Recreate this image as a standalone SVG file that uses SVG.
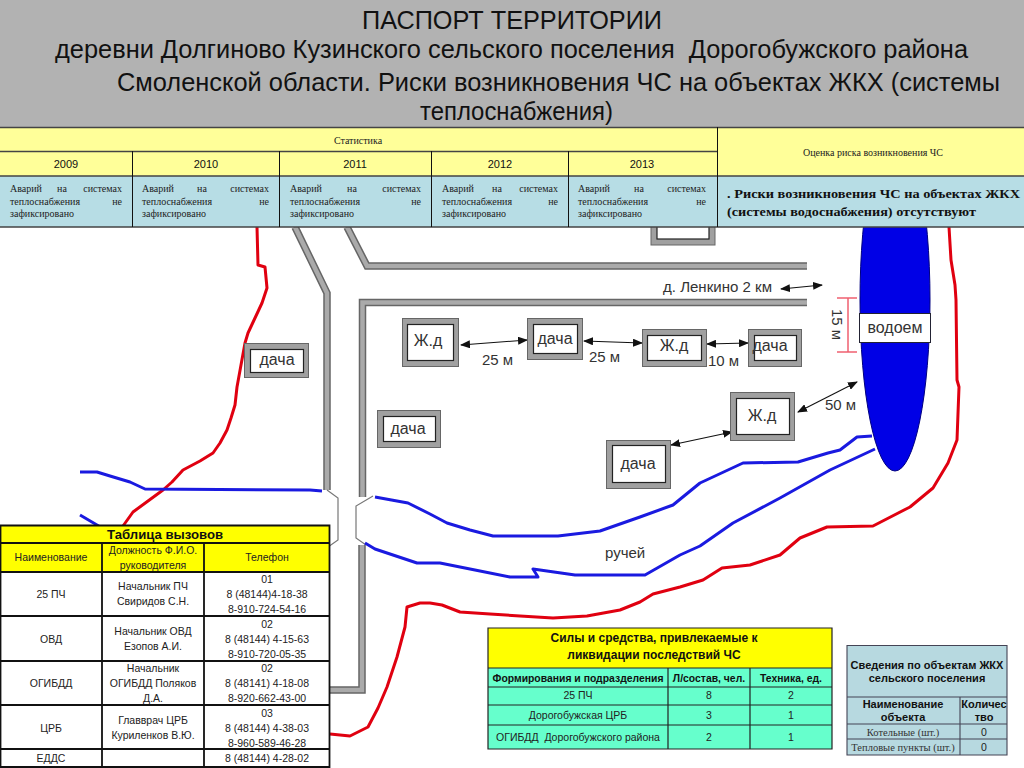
<svg xmlns="http://www.w3.org/2000/svg" width="1024" height="768" viewBox="0 0 1024 768">
<defs>
<marker id="ah" viewBox="0 0 10 8" refX="9" refY="4" markerWidth="10" markerHeight="8" markerUnits="userSpaceOnUse" orient="auto-start-reverse"><path d="M0 0L10 4L0 8Z" fill="#111"/></marker>
</defs>
<style>
text{font-family:"Liberation Sans",Arial,sans-serif;fill:#222}
.t{font-size:25.500px;fill:#111;white-space:pre}
.s{font-family:"Liberation Serif","Times New Roman",serif;font-size:10px;fill:#222}
.m{text-anchor:middle}
.e{text-anchor:end}
.y{font-size:11px;text-anchor:middle;fill:#111}
.b{fill:#a0a0a0;stroke:#666;stroke-width:1}
.i{fill:#fff;stroke:#222;stroke-width:1.2}
.n{font-size:16px;text-anchor:middle;fill:#333}
.l{font-size:15px;fill:#333}
.rd{fill:none;stroke:#666;stroke-width:7.5}
.rl{fill:none;stroke:#aaa;stroke-width:4.5}
.br{fill:none;stroke:#777;stroke-width:1.2}
.red{fill:none;stroke:#e00010;stroke-width:3;stroke-linejoin:round}
.blue{fill:none;stroke:#1a1ae0;stroke-width:3;stroke-linejoin:round}
.a{stroke:#111;stroke-width:1.1;fill:none;marker-start:url(#ah);marker-end:url(#ah)}
.g{stroke:#222;stroke-width:1.2;fill:none}
.k{stroke:#111;stroke-width:1.8;fill:none}
.c{font-size:10.500px;text-anchor:middle;fill:#222}
.f{font-size:10.500px;text-anchor:middle;fill:#222}
.h{font-size:11px;font-weight:bold;text-anchor:middle;fill:#111}
.hf{font-size:10.400px;font-weight:bold;text-anchor:middle;fill:#111}
.ht{font-size:12px;font-weight:bold;text-anchor:middle;fill:#111}
.d{font-family:"Liberation Serif",serif;font-size:10.500px;text-anchor:middle;fill:#333}
.bs{font-family:"Liberation Serif",serif;font-size:13px;font-weight:bold;fill:#111}
</style>
<rect width="1024" height="768" fill="#fff"/>

<g id="roads">
<path class="rd" d="M295,227L327,293V490"/><path class="rl" d="M295,227L327,293V490"/>
<path class="rd" d="M347,227L367,266H807"/><path class="rl" d="M347,227L367,266H807"/>
<path class="rd" d="M807,302.5H362.5V497"/><path class="rl" d="M807,302.5H362.5V497"/>
<path class="rd" d="M362,545V690H320"/><path class="rl" d="M362,545V690H320"/>
<path class="br" d="M327,490L338,498V540L328,547"/>
<path class="br" d="M373,496L356,506V538L366,545"/>
</g>

<g id="connectors">
<path class="red" d="M257,227L258,265L265,267L267,288L262,303L255,318L248,333L245,343L241,365L237,387L235,405L231,418L227,430L220,443L213,453L200,461L183,470L172,482L163,490L148,501L133,512L123,526"/>
<path class="red" d="M330,734L350,736L368,727L378,708L387,687L397,657L405,627L407,607L420,603L430,603L442,605L460,612L490,614L520,616L553,618L587,616L620,610L640,602L653,594L680,587L703,580L722,568L750,565L780,555L800,538L827,527L873,526L910,507L933,488L948,463L957,440L959,387L957,380L956,300L955,285L951,260L949,227"/>
<path class="blue" d="M80,472L97,472L110,476L130,482L145,489L310,490L322,491"/>
<path class="blue" d="M80,515L97,525L110,533"/>
<path class="blue" d="M375,497L408,503L430,514L447,523L470,530L493,536L558,536L600,531L640,517L673,505L700,483L743,463L798,462L828,453L840,450L857,437L872,436"/>
<path class="blue" d="M365,543L375,549L417,563L440,563L475,570L510,577L538,577L533,569L575,575L645,575L680,555L700,546L733,523L780,498L830,470L875,449"/>
<path class="a" d="M461,345L527,340"/>
<path class="a" d="M584,341L642,343"/>
<path class="a" d="M707,344L748,343"/>
<path class="a" d="M798,412L857,382"/>
<path class="a" d="M671,445L732,432"/>
<path class="a" d="M781,289L822,285"/>
<path d="M837,298H857M848,298V352M837,352H857" fill="none" stroke="#f06070" stroke-width="1.5"/>
</g>

<g id="pond"><ellipse cx="895" cy="300" rx="35" ry="171" fill="#0000e6" stroke="#000080" stroke-width="1"/>
<rect x="859.500" y="313.500" width="71" height="29" fill="#fff" stroke="#223" stroke-width="1"/>
<text class="n" x="895" y="333">водоем</text></g>

<g id="n-top"><rect class="b" x="651" y="215" width="64" height="30"/><rect class="i" x="657" y="215" width="52" height="24"/></g>
<g id="n-dacha1"><rect class="b" x="244.500" y="343.500" width="64" height="34"/><rect class="i" x="250.500" y="349.500" width="53" height="23"/><text class="n" x="277" y="365">дача</text></g>
<g id="n-zhd1"><rect class="b" x="402.500" y="318.500" width="56" height="48"/><rect class="i" x="407.500" y="324.500" width="46" height="36"/><text class="n" x="428" y="346">Ж.д</text></g>
<g id="n-dacha2"><rect class="b" x="527.500" y="318.500" width="55" height="41"/><rect class="i" x="533.500" y="324.500" width="44" height="29"/><text class="n" x="555" y="344">дача</text></g>
<g id="n-zhd2"><rect class="b" x="642.500" y="329.500" width="64" height="37"/><rect class="i" x="647.500" y="335.500" width="54" height="25"/><text class="n" x="674" y="351">Ж.д</text></g>
<g id="n-dacha3"><rect class="b" x="748.500" y="329.500" width="53" height="37"/><rect class="i" x="754.500" y="335.500" width="42" height="25"/><text class="n" x="770" y="351">дача</text></g>
<g id="n-dacha4"><rect class="b" x="377.500" y="410.500" width="63" height="37"/><rect class="i" x="383.500" y="416.500" width="52" height="25"/><text class="n" x="408" y="434">дача</text></g>
<g id="n-zhd3"><rect class="b" x="730.500" y="392.500" width="64" height="48"/><rect class="i" x="736.500" y="398.500" width="53" height="36"/><text class="n" x="762" y="421">Ж.д</text></g>
<g id="n-dacha5"><rect class="b" x="606.500" y="440.500" width="64" height="48"/><rect class="i" x="612.500" y="445.500" width="53" height="37"/><text class="n" x="638" y="469">дача</text></g>

<g id="labels">
<text class="l" x="663" y="292" textLength="109" lengthAdjust="spacingAndGlyphs">д. Ленкино 2 км</text>
<text class="l" x="482" y="365">25 м</text>
<text class="l" x="589" y="362">25 м</text>
<text class="l" x="708" y="366">10 м</text>
<text class="l" x="825" y="410">50 м</text>
<text class="l" x="605" y="558">ручей</text>
<text class="l" transform="translate(832,309) rotate(90)">15 м</text>
</g>

<g id="header">
<rect width="1024" height="127" fill="#b2b2b2"/>
<text class="t" x="362" y="29" textLength="300" lengthAdjust="spacingAndGlyphs">ПАСПОРТ ТЕРРИТОРИИ</text>
<text class="t" x="55" y="58" textLength="913" lengthAdjust="spacingAndGlyphs">деревни Долгиново Кузинского сельского поселения  Дорогобужского района</text>
<text class="t" x="117" y="91" textLength="883" lengthAdjust="spacingAndGlyphs">Смоленской области. Риски возникновения ЧС на объектах ЖКХ (системы</text>
<text class="t" x="420" y="120" textLength="193" lengthAdjust="spacingAndGlyphs">теплоснабжения)</text>
</g>

<g id="stats-table">
<rect y="127" width="1024" height="49" fill="#ffff99"/>
<rect y="176" width="1024" height="51" fill="#b7dde5"/>
<path d="M0,127.500H1024M0,151.500H717M0,176H1024M0,227H1024" stroke="#444" stroke-width="1.3" fill="none"/>
<path d="M132.500,151V227M279.500,151V227M431.500,151V227M568.500,151V227M717.500,127V227" stroke="#111" stroke-width="1" fill="none"/>
<text class="s m" x="358" y="144">Статистика</text>
<text class="s m" x="873" y="156">Оценка риска возникновения ЧС</text>
<text class="y" x="66" y="168">2009</text><text class="y" x="206" y="168">2010</text><text class="y" x="355" y="168">2011</text><text class="y" x="500" y="168">2012</text><text class="y" x="642" y="168">2013</text>
<text class="s" x="10" y="192">Аварий</text><text class="s m" x="62" y="192">на</text><text class="s e" x="122" y="192">системах</text><text class="s" x="10" y="205">теплоснабжения</text><text class="s e" x="122" y="205">не</text><text class="s" x="10" y="217">зафиксировано</text>
<text class="s" x="142" y="192">Аварий</text><text class="s m" x="202" y="192">на</text><text class="s e" x="269" y="192">системах</text><text class="s" x="142" y="205">теплоснабжения</text><text class="s e" x="269" y="205">не</text><text class="s" x="142" y="217">зафиксировано</text>
<text class="s" x="290" y="192">Аварий</text><text class="s m" x="352" y="192">на</text><text class="s e" x="421" y="192">системах</text><text class="s" x="290" y="205">теплоснабжения</text><text class="s e" x="421" y="205">не</text><text class="s" x="290" y="217">зафиксировано</text>
<text class="s" x="442" y="192">Аварий</text><text class="s m" x="497" y="192">на</text><text class="s e" x="558" y="192">системах</text><text class="s" x="442" y="205">теплоснабжения</text><text class="s e" x="558" y="205">не</text><text class="s" x="442" y="217">зафиксировано</text>
<text class="s" x="578" y="192">Аварий</text><text class="s m" x="639" y="192">на</text><text class="s e" x="706" y="192">системах</text><text class="s" x="578" y="205">теплоснабжения</text><text class="s e" x="706" y="205">не</text><text class="s" x="578" y="217">зафиксировано</text>
<text class="bs" x="727" y="198" textLength="293" lengthAdjust="spacingAndGlyphs">. Риски возникновения ЧС на объектах ЖКХ</text>
<text class="bs" x="727" y="216" textLength="249" lengthAdjust="spacingAndGlyphs">(системы водоснабжения) отсутствуют</text>
</g>

<g id="calls-table">
<rect y="525" width="330" height="243" fill="#fff"/>
<rect y="525" width="330" height="47" fill="#ffff00"/>
<path class="k" d="M0,525.500H329.500V767H0M0,543H329.500M0,572H329.500M0,616H329.500M0,661H329.500M0,705H329.500M0,749H329.500M102,543V767M204,543V767M0.500,525V767"/>
<text class="ht" x="165" y="539" textLength="116" lengthAdjust="spacingAndGlyphs">Таблица вызовов</text>
<text class="c" x="51" y="561">Наименование</text>
<text class="c" x="153" y="554">Должность Ф.И.О.</text><text class="c" x="153" y="569">руководителя</text>
<text class="c" x="267" y="561">Телефон</text>
<text class="c" x="51" y="598">25 ПЧ</text>
<text class="c" x="153" y="590">Начальник ПЧ</text><text class="c" x="153" y="605">Свиридов С.Н.</text>
<text class="c" x="267" y="583">01</text><text class="c" x="267" y="598">8 (48144)4-18-38</text><text class="c" x="267" y="613">8-910-724-54-16</text>
<text class="c" x="51" y="643">ОВД</text>
<text class="c" x="153" y="635">Начальник ОВД</text><text class="c" x="153" y="650">Езопов А.И.</text>
<text class="c" x="267" y="628">02</text><text class="c" x="267" y="643">8 (48144) 4-15-63</text><text class="c" x="267" y="658">8-910-720-05-35</text>
<text class="c" x="51" y="687">ОГИБДД</text>
<text class="c" x="153" y="672">Начальник</text><text class="c" x="153" y="687">ОГИБДД Поляков</text><text class="c" x="153" y="702">Д.А.</text>
<text class="c" x="267" y="672">02</text><text class="c" x="267" y="687">8 (48141) 4-18-08</text><text class="c" x="267" y="702">8-920-662-43-00</text>
<text class="c" x="51" y="732">ЦРБ</text>
<text class="c" x="153" y="724">Главврач ЦРБ</text><text class="c" x="153" y="739">Куриленков В.Ю.</text>
<text class="c" x="267" y="717">03</text><text class="c" x="267" y="732">8 (48144) 4-38-03</text><text class="c" x="267" y="747">8-960-589-46-28</text>
<text class="c" x="51" y="762">ЕДДС</text><text class="c" x="267" y="762">8 (48144) 4-28-02</text>
</g>

<g id="forces-table">
<rect x="488" y="628" width="344" height="40" fill="#ffff00"/>
<rect x="488" y="668" width="344" height="81" fill="#66ffcc"/>
<path class="g" d="M488,628H832V749H488ZM488,668H832M488,687H832M488,705H832M488,725H832M668,668V749M750,668V749"/>
<text class="ht" x="654" y="642">Силы и средства, привлекаемые к</text>
<text class="ht" x="654" y="659">ликвидации последствий ЧС</text>
<text class="hf" x="578" y="682">Формирования и подразделения</text>
<text class="hf" x="709" y="682">Л/состав, чел.</text>
<text class="hf" x="791" y="682">Техника,  ед.</text>
<text class="f" x="578" y="699">25 ПЧ</text><text class="f" x="709" y="699">8</text><text class="f" x="791" y="699">2</text>
<text class="f" x="578" y="719">Дорогобужская ЦРБ</text><text class="f" x="709" y="719">3</text><text class="f" x="791" y="719">1</text>
<text class="f" x="578" y="741" style="white-space:pre">ОГИБДД  Дорогобужского района</text><text class="f" x="709" y="741">2</text><text class="f" x="791" y="741">1</text>
</g>

<g id="objects-table">
<rect x="847" y="645" width="160" height="110" fill="#b7d9e0"/>
<path d="M847,645.500H1007V755H847ZM847,697H1007M847,724H1007M847,739H1007M960,697V755" stroke="#445" stroke-width="1.1" fill="none"/>
<text class="h" x="927" y="669">Сведения по объектам ЖКХ</text>
<text class="h" x="927" y="682">сельского поселения</text>
<text class="h" x="903" y="708">Наименование</text><text class="h" x="903" y="721">объекта</text>
<text class="h" x="984" y="708">Количес</text><text class="h" x="984" y="721">тво</text>
<text class="d" x="903" y="736">Котельные (шт.)</text><text class="c" x="984" y="736">0</text>
<text class="d" x="903" y="751">Тепловые пункты (шт.)</text><text class="c" x="984" y="751">0</text>
</g>
</svg>
